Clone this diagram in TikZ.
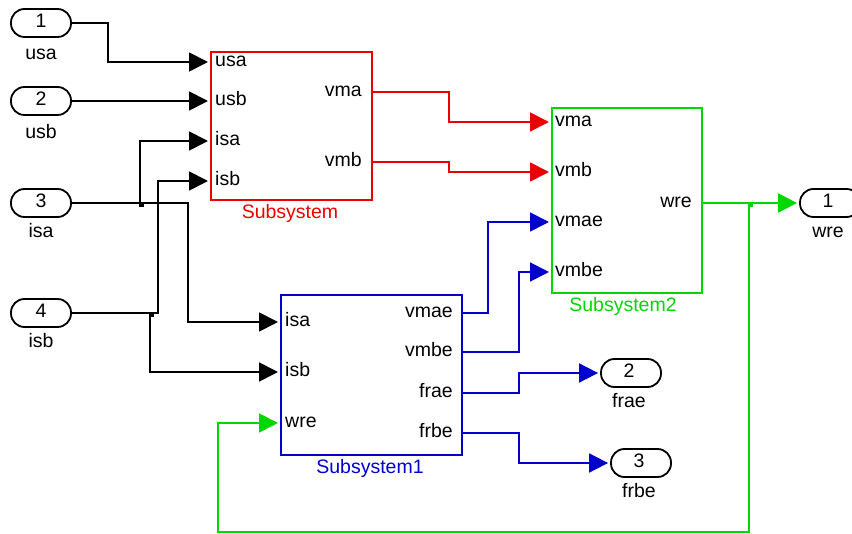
\documentclass[tikz,border=0pt]{standalone}
\usepackage{fontspec}
\setmainfont{Liberation Sans}
\usetikzlibrary{arrows.meta}
\definecolor{sred}{RGB}{235,0,0}
\definecolor{sblue}{RGB}{0,0,205}
\definecolor{sgreen}{RGB}{0,215,0}
\begin{document}
\begin{tikzpicture}[x=1pt,y=-1pt,
  font=\fontsize{19.5}{22}\selectfont,
  lw/.style={line width=1.8pt},
  portbox/.style={draw, lw, rounded corners=13.5pt, minimum width=60pt, minimum height=28pt, inner sep=0pt},
  blk/.style={draw, lw, anchor=north west, inner sep=0pt},
  sig/.style={lw, -{Triangle[length=19pt,width=19pt]}, shorten >=2pt},
  wire/.style={lw},
  jn/.style={fill, minimum size=5pt, inner sep=0pt},
  lab/.style={inner sep=0pt, anchor=base},
  lin/.style={inner sep=0pt, anchor=base west},
  rin/.style={inner sep=0pt, anchor=base east}]
\useasboundingbox (0,0) rectangle (852,534);

% ---------- inports ----------
\node[portbox] (in1) at (41,23) {};
\node[lab] (in1n) at (41,28) {1};
\node[lab] (in1l) at (41,60) {usa};
\node[portbox] (in2) at (41,101) {};
\node[lab] (in2n) at (41,106) {2};
\node[lab] (in2l) at (41,139) {usb};
\node[portbox] (in3) at (41,203) {};
\node[lab] (in3n) at (41,208) {3};
\node[lab] (in3l) at (41,238) {isa};
\node[portbox] (in4) at (41,313) {};
\node[lab] (in4n) at (41,318) {4};
\node[lab] (in4l) at (41,348) {isb};

% ---------- outports ----------
\node[portbox] (out1) at (830,203) {};
\node[lab] (out1n) at (828,208) {1};
\node[lab] (out1l) at (828,238) {wre};
\node[portbox] (out2) at (631,373) {};
\node[lab] (out2n) at (629,378) {2};
\node[lab] (out2l) at (629,408) {frae};
\node[portbox] (out3) at (641,463) {};
\node[lab] (out3n) at (639,468) {3};
\node[lab] (out3l) at (639,498) {frbe};

% ---------- Subsystem (red) ----------
\node[blk, draw=sred, minimum width=161pt, minimum height=148pt] (S) at (210,51) {};
\node[lab, text=sred] (Sl) at (290,219) {Subsystem};
\coordinate (S-usa) at (210,62);
\coordinate (S-usb) at (210,101);
\coordinate (S-isa) at (210,141);
\coordinate (S-isb) at (210,181);
\coordinate (S-vma) at (371,92);
\coordinate (S-vmb) at (371,162);
\node[lin] (Sp1) at (215,67) {usa};
\node[lin] (Sp2) at (215,106) {usb};
\node[lin] (Sp3) at (215,146) {isa};
\node[lin] (Sp4) at (215,186) {isb};
\node[rin] (Sp5) at (362,97) {vma};
\node[rin] (Sp6) at (362,167) {vmb};

% ---------- Subsystem2 (green) ----------
\node[blk, draw=sgreen, minimum width=150pt, minimum height=185pt] (S2) at (551,107) {};
\node[lab, text=sgreen] (S2l) at (623,312) {Subsystem2};
\coordinate (S2-vma) at (551,122);
\coordinate (S2-vmb) at (551,172);
\coordinate (S2-vmae) at (551,222);
\coordinate (S2-vmbe) at (551,272);
\coordinate (S2-wre) at (701,203);
\node[lin] (S2p1) at (555,127) {vma};
\node[lin] (S2p2) at (555,177) {vmb};
\node[lin] (S2p3) at (555,227) {vmae};
\node[lin] (S2p4) at (555,277) {vmbe};
\node[rin] (S2p5) at (692,208) {wre};

% ---------- Subsystem1 (blue) ----------
\node[blk, draw=sblue, minimum width=181pt, minimum height=160pt] (S1) at (280,294) {};
\node[lab, text=sblue] (S1l) at (370,474) {Subsystem1};
\coordinate (S1-isa) at (280,322);
\coordinate (S1-isb) at (280,372);
\coordinate (S1-wre) at (280,423);
\coordinate (S1-vmae) at (461,313);
\coordinate (S1-vmbe) at (461,352);
\coordinate (S1-frae) at (461,393);
\coordinate (S1-frbe) at (461,433);
\node[lin] (S1p1) at (285,327) {isa};
\node[lin] (S1p2) at (285,377) {isb};
\node[lin] (S1p3) at (285,428) {wre};
\node[rin] (S1p4) at (453,318) {vmae};
\node[rin] (S1p5) at (453,357) {vmbe};
\node[rin] (S1p6) at (453,398) {frae};
\node[rin] (S1p7) at (453,438) {frbe};

% ---------- black wires ----------
\draw[sig] (in1.east) -- (108,23) |- (S-usa);
\draw[sig] (in2.east) -- (S-usb);
\coordinate (j3) at (140,203);
\coordinate (j4) at (150,313);
\draw[sig] (in3.east) -- (188,203) |- (S1-isa);
\draw[sig] (j3) |- (S-isa);
\draw[sig] (in4.east) -- (158,313) |- (S-isb);
\draw[sig] (j4) |- (S1-isb);
\node[jn] (j3m) at (141,205) {};
\node[jn] (j4m) at (151,315) {};

% ---------- red wires ----------
\draw[sig, sred] (S-vma) -- (449,92) |- (S2-vma);
\draw[sig, sred] (S-vmb) -- (449,162) |- (S2-vmb);

% ---------- blue wires ----------
\draw[sig, sblue] (S1-vmae) -- (488,313) |- (S2-vmae);
\draw[sig, sblue] (S1-vmbe) -- (519,352) |- (S2-vmbe);
\draw[sig, sblue] (S1-frae) -- (519,393) |- (out2.west);
\draw[sig, sblue] (S1-frbe) -- (519,433) |- (out3.west);

% ---------- green wires ----------
\coordinate (j5) at (749,203);
\draw[sig, sgreen] (S2-wre) -- (out1.west);
\draw[sig, sgreen] (j5) -- (749,532) -- (218,532) |- (S1-wre);
\node[jn, sgreen] (j5m) at (750,205) {};
\end{tikzpicture}
\end{document}
